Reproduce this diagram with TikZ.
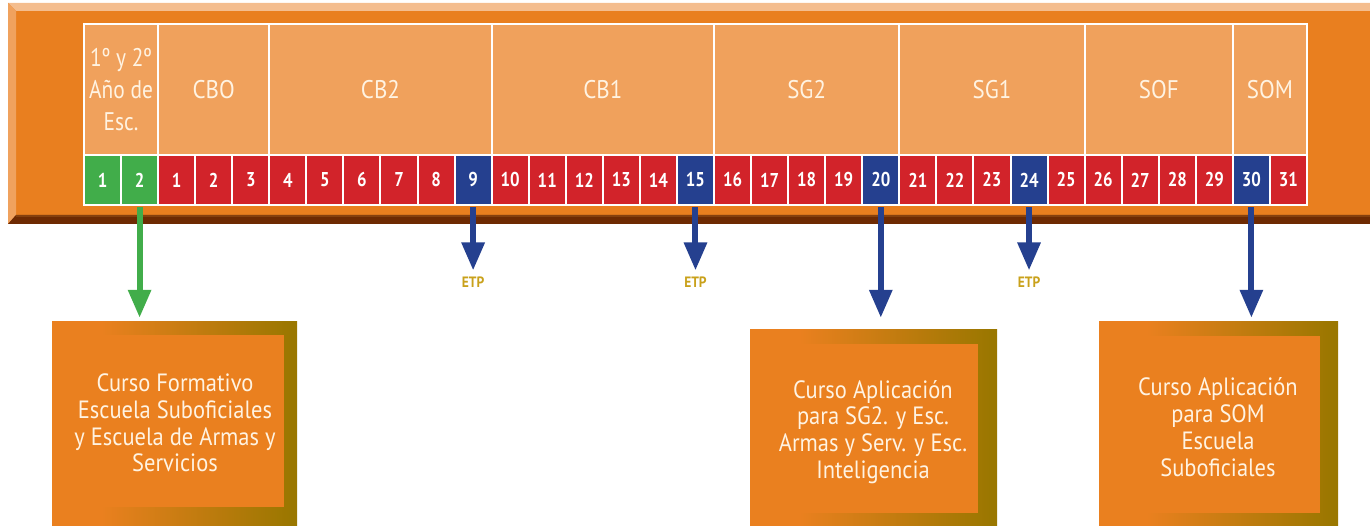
\documentclass[tikz,border=0pt]{standalone}
\usepackage{fontspec}
\setmainfont{PT Sans}
\newfontfamily\cf[FakeStretch=0.84]{PT Sans}
\newfontfamily\cg[FakeStretch=0.9]{PT Sans}
\usetikzlibrary{arrows.meta}
\definecolor{barorange}{HTML}{E97F1F}
\definecolor{bevtop}{HTML}{F4BD8E}
\definecolor{bevleft}{HTML}{F0A25E}
\definecolor{barbrown}{HTML}{6E2A02}
\definecolor{barbrownl}{HTML}{85400E}
\definecolor{hdrc}{HTML}{F0A15C}
\definecolor{cred}{HTML}{D2232A}
\definecolor{cblue}{HTML}{25408F}
\definecolor{cgreen}{HTML}{41AD4A}
\definecolor{boxor}{HTML}{EA801F}
\definecolor{olivec}{HTML}{9A7700}
\definecolor{txtc}{HTML}{FFF3E2}
\definecolor{etpc}{HTML}{C9A11B}
\pgfdeclarehorizontalshading{frameshade}{100bp}{color(0bp)=(boxor); color(35bp)=(boxor); color(74bp)=(olivec); color(100bp)=(olivec)}
\begin{document}
\begin{tikzpicture}[x=1pt,y=-1pt,
  cell/.style={draw=white, line width=2pt, minimum width=37.06pt, minimum height=50pt, inner sep=0pt, text=white, font=\cf\fontsize{20}{22}\selectfont\bfseries},
  hdr/.style={draw=white, line width=2pt, fill=hdrc, minimum height=131pt, inner sep=0pt, text=txtc, align=center, font=\cg\fontsize{25.5}{32}\selectfont},
  outerbox/.style={shading=frameshade, inner sep=0pt},
  innerbox/.style={fill=boxor, inner sep=0pt},
  boxtxt/.style={text=txtc, align=center, inner sep=0pt, font=\cg\fontsize{25}{26.8}\selectfont},
  etp/.style={text=etpc, inner sep=0pt, font=\cg\fontsize{15}{16}\selectfont\bfseries},
  barrow/.style={draw=cblue, line width=6pt, -{Triangle[length=28pt,width=22pt]}, shorten <=1pt},
  garrow/.style={draw=cgreen, line width=6pt, -{Triangle[length=28pt,width=22pt]}, shorten <=1pt}
]
\useasboundingbox (0,0) rectangle (1370,526);
% bar
\fill[barorange] (8,3) rectangle (1370,224);
\fill[bevtop] (8,3) -- (1370,3) -- (1370,11) -- (16,11) -- cycle;
\fill[bevleft] (8,3) -- (16,11) -- (16,215) -- (8,224) -- cycle;
\fill[barbrown] (8,224) -- (16,215) -- (1370,215) -- (1370,224) -- cycle;
\fill[barbrownl] (16,215) rectangle (1370,217);
% headers
\node[hdr, minimum width=74.12pt, font=\cf\fontsize{25.5}{32}\selectfont] (h0) at ({84+37.06*1},89.5) {1º y 2º\\Año de\\Esc.};
\foreach \s/\n/\nm/\t in {2/3/hcbo/CBO, 5/6/hcbb/CB2, 11/6/hcba/CB1, 17/5/hsgb/SG2, 22/5/hsga/SG1, 27/4/hsof/SOF, 31/2/hsom/SOM}{
  \node[hdr, minimum width={37.06*\n}] (\nm) at ({84+37.06*(\s+\n/2)},89.5) {\t};
}
% cells
\foreach \i in {0,...,32}{
  \pgfmathtruncatemacro\lab{\i<2 ? \i+1 : \i-1}
  \pgfmathtruncatemacro\isblue{(\lab==9)||(\lab==15)||(\lab==20)||(\lab==24)||(\lab==30)}
  \def\cc{cred}
  \ifnum\i<2 \def\cc{cgreen}\fi
  \ifnum\isblue=1 \def\cc{cblue}\fi
  \node[cell, fill=\cc] (n\i) at ({84+37.06*(\i+0.5)},180) {\lab};
}
% boxes
\node[outerbox, minimum width=245pt, minimum height=205pt] (o1) at (174.5,424.5) {};
\node[innerbox, minimum width=232pt, minimum height=172pt] (i1) at (168,421) {};
\node[boxtxt] (t1) at (175,423) {Curso Formativo\\Escuela Suboficiales\\y Escuela de Armas y\\Servicios};

\node[outerbox, minimum width=247pt, minimum height=197pt] (o2) at (873.5,428.5) {};
\node[innerbox, minimum width=228pt, minimum height=169pt] (i2) at (864,428.5) {};
\node[boxtxt] (t2) at (873,432) {Curso Aplicación\\para SG2. y Esc.\\Armas y Serv. y Esc.\\Inteligencia};

\node[outerbox, minimum width=239pt, minimum height=205pt] (o3) at (1218.5,424.5) {};
\node[innerbox, minimum width=221pt, minimum height=177pt] (i3) at (1209.5,424.5) {};
\node[boxtxt] (t3) at (1218,427) {Curso Aplicación\\para SOM\\Escuela\\Suboficiales};
% ETP labels
\path (n10.south) ++(0,76) node[etp] (e1) {ETP};
\path (n16.south) ++(0,76) node[etp] (e2) {ETP};
\path (n25.south) ++(0,76) node[etp] (e3) {ETP};
% arrows
\draw[garrow, shorten >=4pt] (n1.south) -- (n1.south |- o1.north);
\draw[barrow, shorten >=6pt] (n10.south) -- (e1.north);
\draw[barrow, shorten >=6pt] (n16.south) -- (e2.north);
\draw[barrow, shorten >=6pt] (n25.south) -- (e3.north);
\draw[barrow, shorten >=12pt] (n21.south) -- (n21.south |- o2.north);
\draw[barrow, shorten >=4pt] (n31.south) -- (n31.south |- o3.north);
\end{tikzpicture}
\end{document}
